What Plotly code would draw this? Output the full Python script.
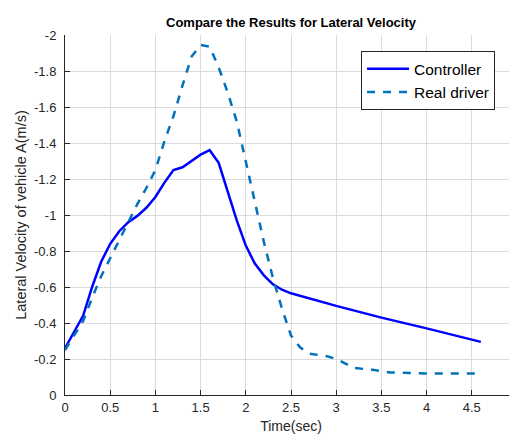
import plotly.graph_objects as go

# time (sec) and lateral velocity (m/s)
t_ctrl = [0, 0.2, 0.3, 0.4, 0.5, 0.6, 0.7, 0.8, 0.9, 1.0, 1.1, 1.2, 1.3, 1.4, 1.5,
          1.6, 1.7, 1.8, 1.9, 2.0, 2.1, 2.2, 2.3, 2.4, 2.5, 3.0, 3.5, 4.0, 4.6]
v_ctrl = [-0.26, -0.44, -0.60, -0.74, -0.84, -0.91, -0.96, -0.995, -1.04, -1.10,
          -1.18, -1.25, -1.265, -1.30, -1.335, -1.36, -1.29, -1.13, -0.97, -0.83,
          -0.73, -0.665, -0.615, -0.585, -0.565, -0.495, -0.43, -0.37, -0.295]

t_driver = [0, 0.2, 0.3, 0.4, 0.5, 0.6, 0.7, 0.8, 0.9, 1.0, 1.1, 1.2, 1.3, 1.4, 1.5,
            1.6, 1.7, 1.8, 1.9, 2.0, 2.1, 2.2, 2.3, 2.4, 2.5, 2.6, 2.7, 2.9, 3.0,
            3.1, 3.2, 3.4, 3.6, 4.0, 4.6]
v_driver = [-0.25, -0.41, -0.54, -0.66, -0.76, -0.86, -0.96, -1.06, -1.15, -1.25,
            -1.41, -1.55, -1.72, -1.88, -1.945, -1.935, -1.82, -1.68, -1.52, -1.30,
            -1.08, -0.85, -0.65, -0.48, -0.33, -0.265, -0.23, -0.215, -0.20,
            -0.175, -0.15, -0.14, -0.125, -0.12, -0.12]

y_ticks = [0, -0.2, -0.4, -0.6, -0.8, -1, -1.2, -1.4, -1.6, -1.8, -2]
y_labels = ['0', '-0.2', '-0.4', '-0.6', '-0.8', '-1', '-1.2', '-1.4', '-1.6', '-1.8', '-2']

font = 'Liberation Sans, Arial, sans-serif'
axcol = '#262626'

data = [go.Scatter(x=t_ctrl, y=v_ctrl, mode='lines', name='Controller',
                   line=dict(color='#0000FF', width=2.5)),
        go.Scatter(x=t_driver, y=v_driver, mode='lines', name='Real driver',
                   line=dict(color='#0072BD', width=2.5, dash='8px,8px'))]

# page body has an 8px margin, so the figure is 8px smaller and shifted
layout = go.Layout(
    width=509, height=426,
    margin=dict(l=57, r=0, t=27, b=39),
    paper_bgcolor='white', plot_bgcolor='white',
    font=dict(family=font, size=13, color=axcol),
    title=dict(text='<b>Compare the Results for Lateral Velocity</b>',
               font=dict(size=13, color='black'),
               x=0.5, xref='paper', xanchor='center',
               y=1 - 14 / 426, yref='container', yanchor='middle'),
    xaxis=dict(range=[0, 5], dtick=0.5, showgrid=True, gridcolor='#dcdcdc',
               showline=True, linecolor=axcol, linewidth=1, mirror=False,
               ticks='inside', ticklen=5, tickcolor=axcol, zeroline=False,
               title=dict(text='Time(sec)', font=dict(size=14), standoff=7),
               automargin=False),
    yaxis=dict(range=[0, -2], tickvals=y_ticks, ticktext=y_labels,
               showgrid=True, gridcolor='#dcdcdc',
               showline=True, linecolor=axcol, linewidth=1, mirror=False,
               ticks='inside', ticklen=5, tickcolor=axcol, zeroline=False,
               ticklabelstandoff=5,
               title=dict(text='Lateral Velocity of vehicle A(m/s)',
                          font=dict(size=14.5), standoff=3),
               automargin=False),
    legend=dict(x=0.655, xanchor='left', y=0.955, yanchor='top',
                bgcolor='white', bordercolor=axcol, borderwidth=1,
                font=dict(size=15.5, color='black'), tracegroupgap=0,
                itemwidth=42),
    showlegend=True,
)

fig = go.Figure(data, layout)
fig.write_html('out.html')
